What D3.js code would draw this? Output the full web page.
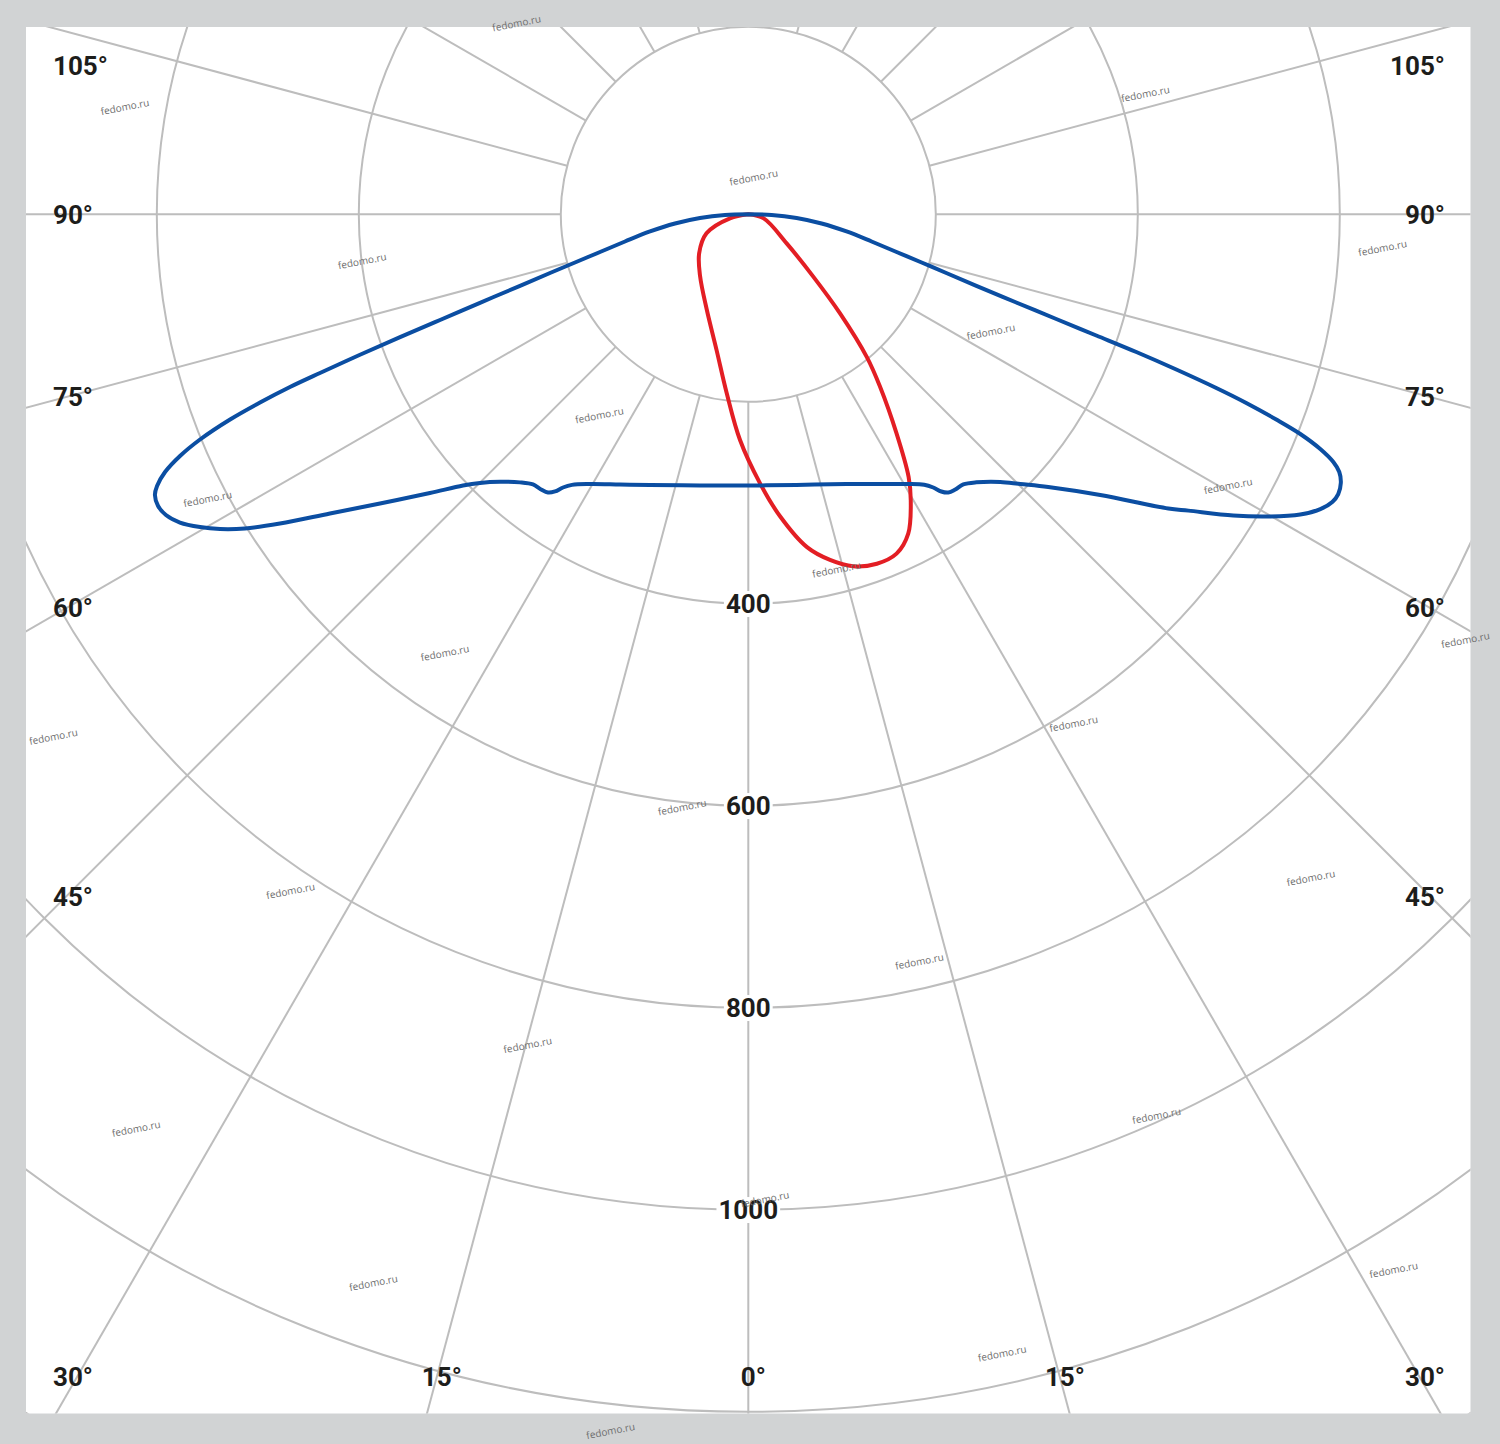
<!DOCTYPE html>
<html><head><meta charset="utf-8">
<script src="https://cdn.jsdelivr.net/npm/d3@7"></script>
<style>body{margin:0;background:#d1d3d4;}svg{display:block;}</style>
</head><body>
<svg id="chart" width="1500" height="1444"></svg>
<script>
// ---- data ----
const ringValues = [200, 400, 600, 800, 1000, 1200, 1400];
const ringLabelValues = [400, 600, 800, 1000];
const spokeAngles = [-165, -150, -135, -120, -105, -90, -75, -60, -45, -30, -15, 0, 15, 30, 45, 60, 75, 90, 105, 120, 135, 150, 165, 180];
const angleLabelValues = [105, 90, 75, 60, 45, 30, 15, 0];

// blue curve, traversal order: centre -> left upper edge -> left tip -> lower edge -> right tip -> right upper edge -> centre
const blueAngles = [-90, -88.28, -85.62, -82.85, -80.08, -77.56, -75.74, -74.46, -73.51, -72.61, -71.74, -71.08, -70.56, -70.11, -69.67, -69.35, -68.92, -68.40, -67.67, -66.96, -66.16, -65.32, -64.68, -63.70, -62.69, -61.53, -60.30, -59.22, -58.03, -56.57, -54.43, -51.86, -48.80, -46.45, -44.96, -42.86, -40.42, -38.55, -37.0, -35.75, -34.89, -34.15, -33.09, -30.41, -25.40, -19.95, -10.10, 0,
  10.06, 19.97, 25.39, 30.36, 33.05, 34.10, 34.85, 35.71, 36.95, 38.51, 40.39, 43.27, 45.24, 47.73, 51.43, 54.99, 56.05, 58.16, 59.84, 61.46, 62.74, 63.78, 64.63, 65.61, 66.44, 67.05, 67.69, 68.30, 68.76, 69.25, 69.64, 70.07, 70.46, 70.80, 71.22, 71.78, 72.59, 73.49, 74.46, 75.74, 77.56, 80.08, 82.85, 85.62, 88.28, 90];
const blueValues = [0, 24.9, 51.7, 78.8, 106.4, 134.7, 163.2, 191.9, 219.1, 251.2, 294.1, 337.0, 380.0, 423.2, 466.6, 499.3, 532.5, 566.2, 601.2, 625.8, 645.7, 658.6, 664.3, 666.2, 663.3, 654.5, 639.3, 623.2, 601.8, 570.0, 523.6, 478.0, 433.3, 404.1, 390.3, 375.7, 363.0, 356.4, 355.4, 353.8, 348.9, 341.2, 334.1, 324.0, 310.5, 299.5, 287.1, 282.9,
  286.5, 298.4, 309.9, 323.9, 333.8, 341.0, 348.8, 353.6, 355.3, 356.2, 362.8, 378.3, 393.6, 415.7, 460.1, 522.1, 539.7, 579.6, 609.8, 636.4, 651.5, 658.9, 660.8, 658.5, 652.7, 643.4, 626.5, 602.6, 575.2, 541.6, 508.6, 465.1, 422.0, 379.2, 336.4, 293.7, 251.0, 218.8, 191.9, 163.2, 134.7, 106.4, 78.8, 51.7, 24.9, 0];

// red curve, traversal order from the left horizontal to the right horizontal
const redAngles = [-90, -77.7, -65.5, -51.5, -37.7, -23.5, -13.1, -6.9, -2.1, 2.5, 6.0, 10.0, 13.3, 16.6, 20.2, 23.6, 26.6, 29.6, 31.4, 34.1, 37.4, 39.7, 42.8, 46.2, 52.9, 75.1, 90];
const redValues = [0, 20, 49, 67, 84, 111, 149, 192, 238, 281, 315, 349, 366, 378, 383, 381, 368, 340, 319, 276, 229, 198, 144, 96, 51, 17, 0];

// ---- layout ----
const W = 1500, H = 1444;
const frame = {x: 26, y: 27, w: 1444.5, h: 1386.5};
const cx = 748.3, cy = 214.3;
const svg = d3.select('#chart');
const r = d3.scaleLinear().domain([0, 200, 1400]).range([0, 187.5, 1399.5]);
const rad = d => d * Math.PI / 180;
const pt = (deg, rr) => [cx + rr * Math.sin(rad(deg)), cy + rr * Math.cos(rad(deg))];

svg.append('rect').attr('width', W).attr('height', H).attr('fill', '#d1d3d4');
svg.append('rect').attr('x', frame.x).attr('y', frame.y).attr('width', frame.w).attr('height', frame.h).attr('fill', '#ffffff');

svg.append('clipPath').attr('id', 'clip').append('rect')
  .attr('x', frame.x).attr('y', frame.y).attr('width', frame.w).attr('height', frame.h);

const grid = svg.append('g').attr('clip-path', 'url(#clip)')
  .attr('stroke', '#bdbdbd').attr('stroke-width', 2).attr('fill', 'none');

grid.selectAll('circle').data(ringValues).join('circle')
  .attr('cx', cx).attr('cy', cy).attr('r', d => r(d));

grid.selectAll('line').data(spokeAngles).join('line')
  .attr('x1', d => pt(d, r(200))[0]).attr('y1', d => pt(d, r(200))[1])
  .attr('x2', d => pt(d, 2400)[0]).attr('y2', d => pt(d, 2400)[1]);

const FONT = 'Roboto, "DejaVu Sans", sans-serif';

// ring value labels with white background
const ringG = svg.append('g');
ringLabelValues.forEach(v => {
  const g = ringG.append('g');
  const t = g.append('text').attr('x', cx).attr('y', cy + r(v)).attr('dy', '0.355em')
    .attr('text-anchor', 'middle').attr('font-family', FONT).attr('font-weight', 700)
    .attr('font-size', 26).attr('fill', '#1d1d1b').text(v);
  const bb = t.node().getBBox();
  g.insert('rect', 'text').attr('x', bb.x - 2).attr('y', bb.y + 2).attr('width', bb.width + 4).attr('height', bb.height - 4).attr('fill', '#fff');
});

// angle labels
const labG = svg.append('g').attr('font-family', FONT).attr('font-weight', 700)
  .attr('font-size', 26).attr('fill', '#1d1d1b');
const leftX = 53, rightX = 1445, topY = 66, bottomY = 1377, sideD = 682;
angleLabelValues.forEach(a => {
  const sides = a === 0 ? [1] : [-1, 1];
  sides.forEach(s => {
    if (a >= 30) {
      let y = a === 90 ? cy : cy + sideD / Math.tan(rad(a));
      y = Math.max(topY, Math.min(bottomY, y));
      labG.append('text').attr('x', s < 0 ? leftX : rightX).attr('y', y).attr('dy', '0.355em')
        .attr('text-anchor', s < 0 ? 'start' : 'end').text(a + '°');
    } else {
      const x = cx + s * (bottomY - cy) * Math.tan(rad(a));
      const t = labG.append('text').attr('y', bottomY).attr('dy', '0.355em').attr('text-anchor', 'start');
      t.append('tspan').text(String(a));
      t.append('tspan').text('°');
      const nw = t.node().getSubStringLength(0, String(a).length);
      t.attr('x', x - nw / 2);
    }
  });
});

// curves
const line = d3.lineRadial().curve(d3.curveCatmullRom.alpha(0.5));
const toPolar = (angles, values) => angles.map((a, i) => [rad(180 - a), r(values[i])]);
const curves = svg.append('g').attr('transform', `translate(${cx},${cy})`).attr('fill', 'none')
  .attr('stroke-width', 4).attr('stroke-linejoin', 'round').attr('stroke-linecap', 'round');
curves.append('path').attr('d', line(toPolar(redAngles, redValues))).attr('stroke', '#e31e24');
curves.append('path').attr('d', line(toPolar(blueAngles, blueValues))).attr('stroke', '#0b4ea2');

// watermark tiling
const wm = svg.append('g').attr('font-family', '"Open Sans", "Liberation Sans", sans-serif')
  .attr('font-size', 10).attr('fill', '#6e6e6e').attr('text-anchor', 'middle');
const o = [125, 107], va = [237.2, 154.2], vb = [391.6, -83.6];
for (let i = -12; i <= 16; i++) {
  for (let j = -10; j <= 10; j++) {
    const x = o[0] + i * va[0] + j * vb[0];
    let y = o[1] + i * va[1] + j * vb[1];
    if (x < 34 || x > W - 32 || y < 14 || y > H - 4) continue;
    y = Math.min(y, H - 13);
    wm.append('text').attr('transform', `translate(${x},${y}) rotate(-11)`).attr('dy', '0.35em').text('fedomo.ru');
  }
}
</script>
</body></html>
